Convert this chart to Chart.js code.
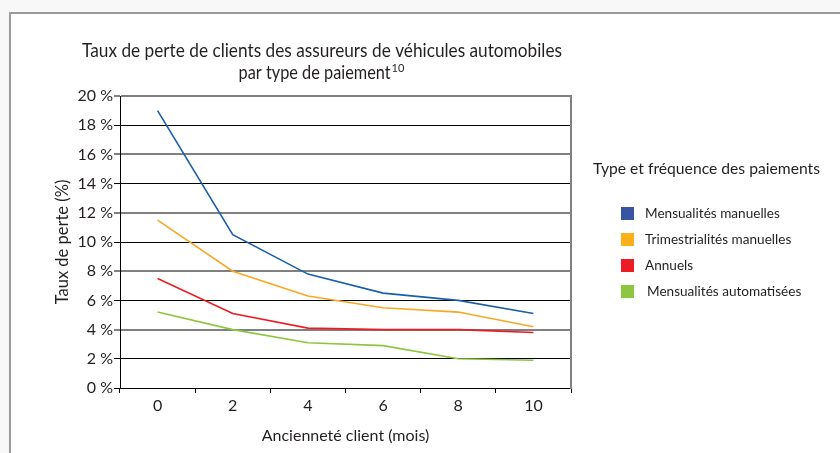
<!DOCTYPE html>
<html>
<head>
<meta charset="utf-8">
<script src="https://cdn.jsdelivr.net/npm/chart.js@4.4.1/dist/chart.umd.min.js"></script>
<style>
html, body { margin: 0; padding: 0; background: #f8f8f8; overflow: hidden; }
#frame { position: absolute; left: 9px; top: 12px; width: 900px; height: 500px; background: #fff;
         border-left: 2px solid #9b9b9b; border-top: 2px solid #9b9b9b; }
#wrap { position: absolute; left: 0; top: 0; width: 840px; height: 453px; }
</style>
</head>
<body>
<div id="frame"></div>
<div id="wrap"><canvas id="lossChart"></canvas></div>
<script>
// données (taux de perte en %)
const tenureMonths = ['0', '2', '4', '6', '8', '10'];
const monthlyManual = [19.0, 10.5, 7.8, 6.5, 6.0, 5.1];
const quarterlyManual = [11.5, 8.0, 6.3, 5.5, 5.2, 4.2];
const annualPay = [7.5, 5.1, 4.1, 4.0, 4.0, 3.8];
const monthlyAuto = [5.2, 4.0, 3.1, 2.9, 2.0, 1.9];
const seriesNames = ['Mensualités manuelles', 'Trimestrialités manuelles', 'Annuels', 'Mensualités automatisées'];

const lineColors = ['#1a5fa8', '#f9a825', '#ed1c24', '#8dc63f'];
const swatchColors = ['#3a54a4', '#fbb01b', '#ed1c24', '#8dc63f'];
const textColor = '#231f20';
const fontFamily = 'Lato, "Open Sans", sans-serif';

const overlayText = {
    id: 'overlayText',
    afterDraw(chart) {
        const ctx = chart.ctx;
        ctx.save();
        ctx.fillStyle = textColor;
        ctx.textBaseline = 'alphabetic';

        // titre (resserré pour la largeur de l'original)
        ctx.font = '19px ' + fontFamily;
        ctx.textAlign = 'center';
        ctx.fillText('Taux de perte de clients des assureurs de véhicules automobiles', 322, 57, 480);
        const line2 = 'par type de paiement';
        const w2 = Math.min(ctx.measureText(line2).width, 152);
        ctx.font = '11px ' + fontFamily;
        const wSup = ctx.measureText('10').width;
        const start = 321 - (w2 + wSup) / 2;
        ctx.textAlign = 'left';
        ctx.font = '19px ' + fontFamily;
        ctx.fillText(line2, start, 79, 152);
        ctx.font = '11px ' + fontFamily;
        ctx.fillText('10', start + w2 + 1, 72);

        // légende
        ctx.font = '16px ' + fontFamily;
        ctx.textAlign = 'left';
        ctx.textBaseline = 'middle';
        ctx.fillText('Type et fréquence des paiements', 593, 169, 227);
        ctx.font = '14px ' + fontFamily;
        seriesNames.forEach((name, i) => {
            const y = 213 + i * 26;
            ctx.fillStyle = swatchColors[i];
            ctx.fillRect(621, y - 6, 13, 13);
            ctx.fillStyle = textColor;
            const x = i === 3 ? 647 : 645;
            ctx.fillText(name, x, y, ctx.measureText(name).width * 0.97);
        });
        ctx.restore();
    }
};

const ctx = document.getElementById('lossChart').getContext('2d');
const datasets = [monthlyManual, quarterlyManual, annualPay, monthlyAuto].map((values, i) => ({
    label: seriesNames[i],
    data: values,
    borderColor: lineColors[i],
    backgroundColor: lineColors[i],
    borderWidth: 1.6,
    pointRadius: 0,
    tension: 0,
    fill: false
}));

new Chart(ctx, {
    type: 'line',
    data: { labels: tenureMonths, datasets: datasets },
    plugins: [overlayText],
    options: {
        responsive: true,
        maintainAspectRatio: false,
        animation: false,
        layout: { padding: { top: 96, right: 269, bottom: 0, left: 0 } },
        plugins: {
            legend: { display: false },
            tooltip: { enabled: false }
        },
        scales: {
            x: {
                type: 'category',
                offset: true,
                grid: {
                    offset: true,
                    drawOnChartArea: false,
                    drawTicks: true,
                    tickLength: 5,
                    color: '#000'
                },
                border: { color: '#000', width: 1 },
                ticks: { color: textColor, font: { family: fontFamily, size: 16 }, padding: 3 },
                title: {
                    display: true,
                    text: 'Ancienneté client (mois)',
                    color: textColor,
                    font: { family: fontFamily, size: 16 },
                    padding: { top: 0, bottom: 8 }
                },
                afterFit(scale) { scale.height = 65; }
            },
            y: {
                min: 0,
                max: 20,
                grid: {
                    color: c => (c.tick && c.tick.value % 4 === 0 && c.tick.value !== 0) ? '#808080' : '#000',
                    lineWidth: c => (c.tick && c.tick.value % 4 === 0 && c.tick.value !== 0) ? 2 : 1,
                    tickLength: 6
                },
                border: { color: '#000', width: 1 },
                ticks: {
                    stepSize: 2,
                    color: textColor,
                    font: { family: fontFamily, size: 16 },
                    padding: 1,
                    callback: v => v + ' %'
                },
                title: {
                    display: true,
                    text: 'Taux de perte (%)',
                    color: textColor,
                    font: { family: fontFamily, size: 16.5 },
                    padding: { top: 53, bottom: 0 }
                },
                afterFit(scale) { scale.width = 120; }
            },
            yRight: {
                position: 'right',
                min: 0,
                max: 20,
                grid: { display: false, drawTicks: false },
                ticks: { display: false },
                border: { display: true, color: '#808080', width: 2 },
                afterFit(scale) { scale.width = 0; }
            }
        }
    }
});
</script>
</body>
</html>
